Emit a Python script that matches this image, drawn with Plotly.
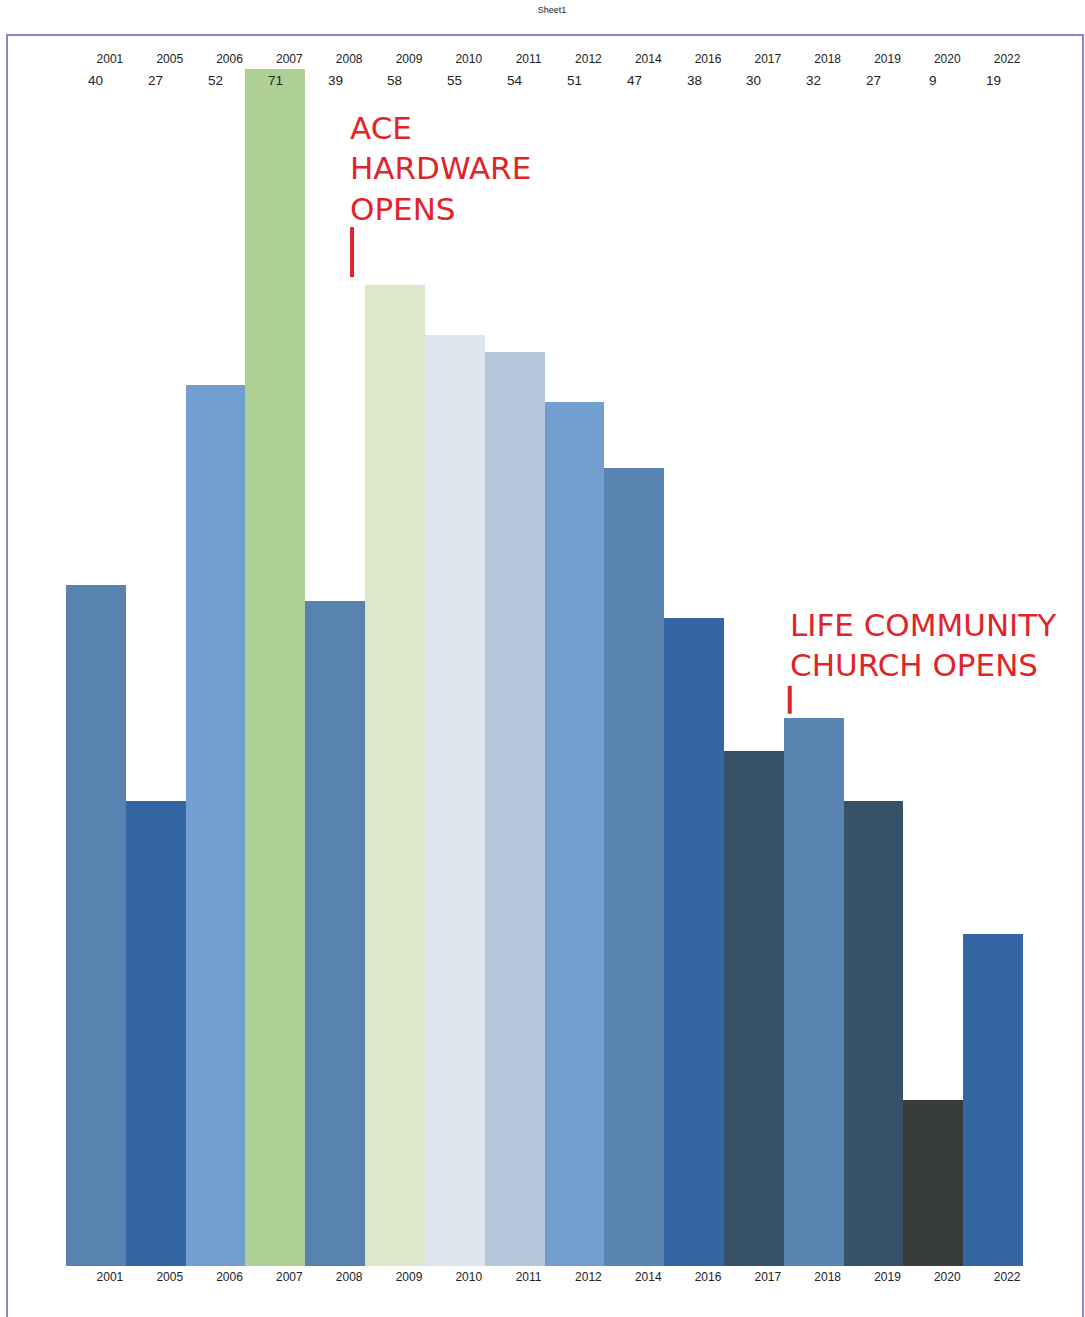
import plotly.graph_objects as go

years = ["2001", "2005", "2006", "2007", "2008", "2009", "2010", "2011",
         "2012", "2014", "2016", "2017", "2018", "2019", "2020", "2022"]
values = [40, 27, 52, 71, 39, 58, 55, 54, 51, 47, 38, 30, 32, 27, 9, 19]
bar_colors = ["#5882b0", "#3465a4", "#729fcf", "#afd095", "#5882b0", "#dde8cb",
              "#dee6ef", "#b4c7dc", "#729fcf", "#5983b0", "#3465a4", "#355269",
              "#5983b0", "#355269", "#383d3c", "#3465a4"]
notes = [("2009", "ACE<br>HARDWARE<br>OPENS"),
         ("2018", "LIFE COMMUNITY<br>CHURCH OPENS")]

W, H = 1085, 1317
L, R, T, B = 66, 62, 68, 51
pw, ph = W - L - R, H - T - B
BASE = -0.95
YMAX = 71.05
N = len(years)
xs = list(range(N))
cw = pw / N                      # pixels per category
py = ph / (YMAX - BASE)          # pixels per unit

fig = go.Figure()
fig.add_trace(go.Bar(
    x=xs, y=[v - BASE for v in values], base=BASE,
    marker=dict(color=bar_colors, line=dict(width=0)),
    width=1.0, hovertext=[f"{y}: {v}" for y, v in zip(years, values)], hoverinfo="text",
    showlegend=False,
))
fig.add_trace(go.Scatter(x=xs, y=[None] * N, xaxis="x2",
                         showlegend=False, hoverinfo="skip"))

tickfont = dict(family="Liberation Sans, Arial, sans-serif", size=12, color="#222222")
axis_common = dict(tickmode="array", tickvals=xs, ticktext=years,
                   showgrid=False, showline=False, zeroline=False, ticks="",
                   tickfont=tickfont, ticklabelshift=14, ticklabelstandoff=2,
                   range=[-0.5, N - 0.5])
fig.update_layout(
    width=W, height=H,
    margin=dict(l=L, r=R, t=T, b=B),
    paper_bgcolor="white", plot_bgcolor="white",
    title=dict(text="Sheet1", x=(552 - L) / pw, xref="paper", xanchor="center",
               y=1 - 10 / H, yanchor="middle",
               font=dict(family="Liberation Sans, Arial, sans-serif", size=9, color="#222")),
    bargap=0,
    xaxis=dict(**axis_common),
    xaxis2=dict(**axis_common, overlaying="x", side="top"),
    yaxis=dict(range=[BASE, YMAX], visible=False, showgrid=False, zeroline=False),
)

# value row near top
for i, v in zip(xs, values):
    fig.add_annotation(x=i, xref="x", y=1, yref="paper", yanchor="middle",
                       yshift=-(80 - T), text=str(v), showarrow=False,
                       font=dict(family="Liberation Sans, Arial, sans-serif", size=13.5, color="#222"))

# frame
fig.add_shape(type="rect", xref="paper", yref="paper",
              x0=(7 - L) / pw, x1=(1083 - L) / pw,
              y0=(H - 1330 - B) / ph, y1=(H - 35 - B) / ph,
              line=dict(color="#8a86c8", width=2), fillcolor="rgba(0,0,0,0)", layer="below")

red = "#e0252a"
annot_font = dict(family="DejaVu Sans, sans-serif", size=31, color=red)

# Ace hardware (above 2009 bar, at its left edge)
i0 = years.index(notes[0][0])
v0 = values[i0]
left0 = i0 - 0.5
fig.add_annotation(x=left0, xref="x", xanchor="left", xshift=-17,
                   y=v0, yref="y", yanchor="bottom", yshift=56,
                   text=notes[0][1], showarrow=False, align="left", font=annot_font)
fig.add_shape(type="line", xref="x", yref="y",
              x0=left0 - 13 / cw, x1=left0 - 13 / cw,
              y0=v0 + 8 / py, y1=v0 + 58 / py,
              line=dict(color=red, width=4))

# Life community church (above 2018 bar)
i1 = years.index(notes[1][0])
v1 = values[i1]
left1 = i1 - 0.5
fig.add_annotation(x=left1, xref="x", xanchor="left", xshift=4,
                   y=v1, yref="y", yanchor="bottom", yshift=33,
                   text=notes[1][1], showarrow=False, align="left", font=annot_font)
fig.add_shape(type="line", xref="x", yref="y",
              x0=left1 + 6 / cw, x1=left1 + 6 / cw,
              y0=v1 + 4 / py, y1=v1 + 32 / py,
              line=dict(color=red, width=4))

fig.write_html("out.html")
